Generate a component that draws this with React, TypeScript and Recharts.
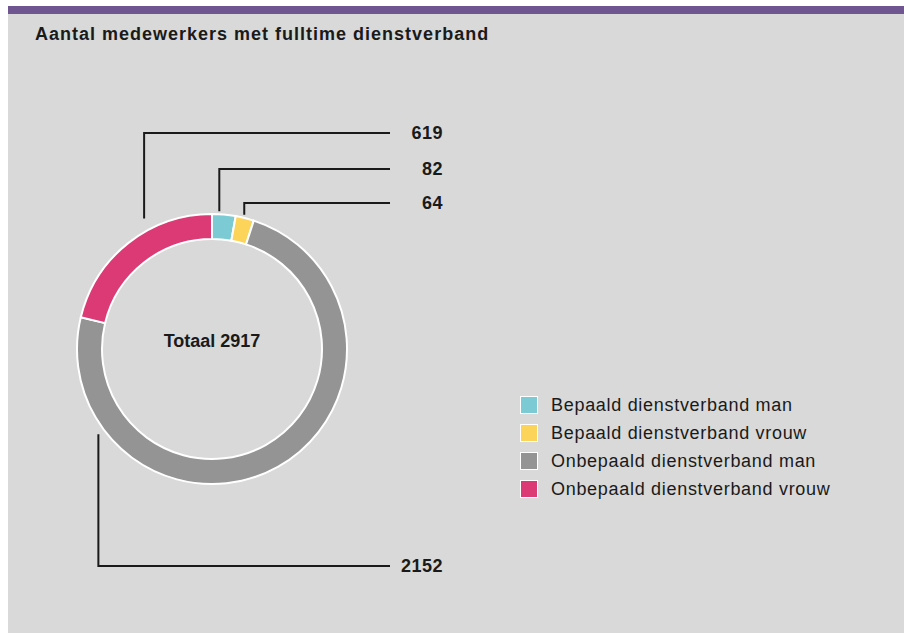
import { PieChart, Pie, Cell, Legend } from 'recharts';

const categories = [
  'Bepaald dienstverband man',
  'Bepaald dienstverband vrouw',
  'Onbepaald dienstverband man',
  'Onbepaald dienstverband vrouw',
];
const values = [82, 64, 2152, 619];
const colors = ['#7ccbd4', '#fdd45a', '#939493', '#dc3a75'];
const total = 2917;

// where each label line leaves its slice (fraction along the arc), how far out, and which row it goes to
const anchorFraction = [0.3, 0.43, 0.81, 0.64];
const anchorGap = [3, 3, 7, 12];
const labelRowY = [163, 197, 560, 127];

const FONT = '"Liberation Sans", Arial, Helvetica, sans-serif';
const RAD = Math.PI / 180;

const renderLabel = (props: any) => {
  const { cx, cy, startAngle, endAngle, outerRadius, index, value } = props;
  const angle = startAngle + anchorFraction[index] * (endAngle - startAngle);
  const r = outerRadius + anchorGap[index];
  const x = cx + r * Math.cos(angle * RAD);
  const y = cy - r * Math.sin(angle * RAD);
  const rowY = labelRowY[index];
  return (
    <g key={`lbl-${index}`}>
      <polyline
        points={`${x},${y} ${x},${rowY} 382,${rowY}`}
        fill="none"
        stroke="#1a1a1a"
        strokeWidth={2}
      />
      <text
        x={435}
        y={rowY}
        textAnchor="end"
        dominantBaseline="central"
        fontFamily={FONT}
        fontWeight="bold"
        fontSize={18}
        letterSpacing={0.5}
        fill="#1a1a1a"
      >
        {value}
      </text>
    </g>
  );
};

const renderLegend = () => (
  <div style={{ fontFamily: FONT }}>
    {categories.map((name, i) => (
      <div key={name} style={{ display: 'flex', alignItems: 'center', height: 28 }}>
        <div
          style={{
            width: 18,
            height: 18,
            boxSizing: 'border-box',
            border: '1px solid #fff',
            background: colors[i],
            marginRight: 13,
          }}
        />
        <span style={{ fontSize: 18, letterSpacing: 0.7, color: '#1a1a1a' }}>{name}</span>
      </div>
    ))}
  </div>
);

const App = () => {
  const data = categories.map((name, i) => ({ name, value: values[i] }));

  return (
    <div
      style={{
        position: 'absolute',
        left: 0,
        top: 0,
        width: 904,
        height: 633,
        overflow: 'hidden',
        background: '#ffffff',
      }}
    >
      <div
        style={{
          position: 'absolute',
          left: 8,
          top: 6,
          width: 896,
          height: 627,
          background: '#d8d9d8',
          fontFamily: FONT,
        }}
      >
        <div style={{ height: 8, background: '#6f5690' }} />
        <div
          style={{
            position: 'absolute',
            left: 27,
            top: 18,
            fontSize: 18,
            fontWeight: 'bold',
            letterSpacing: 1,
            color: '#1a1a1a',
          }}
        >
          Aantal medewerkers met fulltime dienstverband
        </div>
        <div style={{ position: 'absolute', left: 0, top: 0 }}>
          <PieChart width={896} height={627} margin={{ top: 0, right: 0, bottom: 0, left: 0 }}>
            <Pie
              data={data}
              dataKey="value"
              nameKey="name"
              cx={204}
              cy={343}
              innerRadius={110}
              outerRadius={135}
              startAngle={90}
              endAngle={-270}
              stroke="#ffffff"
              strokeWidth={2}
              label={renderLabel}
              labelLine={false}
              isAnimationActive={false}
            >
              {data.map((entry, index) => (
                <Cell key={`cell-${index}`} fill={colors[index]} />
              ))}
            </Pie>
            <text
              x={204}
              y={335}
              textAnchor="middle"
              dominantBaseline="central"
              fontFamily={FONT}
              fontWeight="bold"
              fontSize={18}
              fill="#1a1a1a"
            >
              {`Totaal ${total}`}
            </text>
            <Legend
              layout="vertical"
              content={renderLegend}
              wrapperStyle={{ position: 'absolute', left: 512, top: 385, width: 360 }}
            />
          </PieChart>
        </div>
      </div>
    </div>
  );
};

export default App;
